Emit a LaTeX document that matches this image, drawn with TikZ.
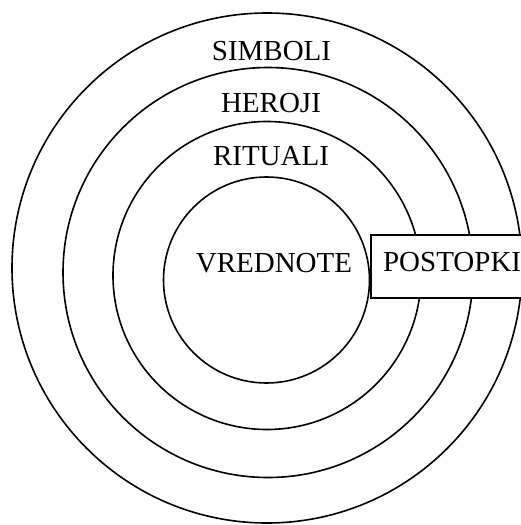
\documentclass[tikz,border=0pt]{standalone}
\usepackage{fontspec}
\setmainfont{Liberation Serif}
\usepackage{tikz}
\usetikzlibrary{positioning}

\begin{document}
\begin{tikzpicture}[
    x=1pt, y=-1pt,
    ring/.style  = {draw, circle, line width=1.6pt, inner sep=0pt},
    layer/.style = {font=\fontsize{29}{30}\selectfont, anchor=base, inner sep=0pt},
    tag/.style   = {draw, line width=1.6pt, fill=white, anchor=west, inner sep=0pt,
                    font=\fontsize{29}{30}\selectfont, minimum width=162pt,
                    minimum height=63pt, text depth=9pt},
  ]
    \useasboundingbox (0,0) rectangle (521,525);

    % --- the four layers, outside in ---
    \node[ring, minimum size=510pt] (c1) at (267,268) {};
    \node[ring, minimum size=410pt] (c2) at (268,272.5) {};
    \node[ring, minimum size=308pt] (c3) at (267,275.5) {};
    \node[ring, minimum size=206pt] (c4) at (266.5,280) {};

    % --- layer names ---
    \node[layer] (simboli)  at (271.5,60)  {SIMBOLI};
    \node[layer] (heroji)   at (271,112)   {HEROJI};
    \node[layer] (rituali)  at (271,165)   {RITUALI};
    \node[layer] (vrednote) at (274,272)   {VREDNOTE};

    % --- practices cut through the outer layers ---
    \node[tag] (postopki) at (c4.east |- 0,266.5) {POSTOPKI};
  \end{tikzpicture}
\end{document}
